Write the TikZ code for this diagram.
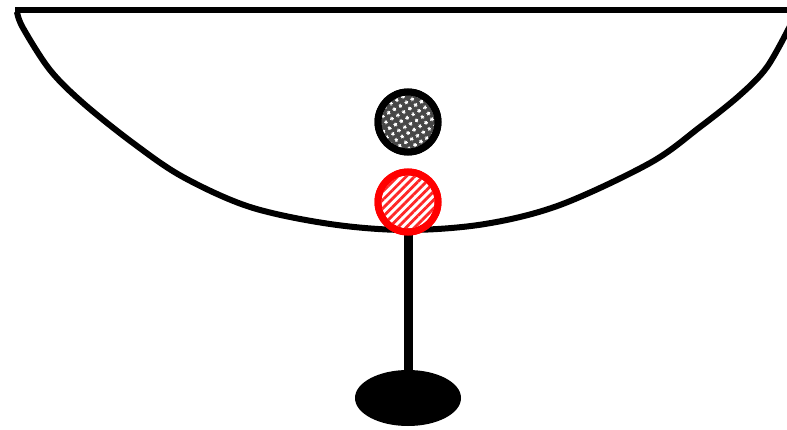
\documentclass[tikz,border=0pt]{standalone}
\usetikzlibrary{patterns.meta}
\begin{document}
\begin{tikzpicture}[x=1pt,y=-1pt,
  bowl/.style={line width=6pt},
  ball/.style={circle,line width=7pt,minimum size=60pt,inner sep=0pt}]
\useasboundingbox (0,0) rectangle (787,430);
% rim
\draw[bowl] (15,10) -- (800,10);
% bowl curve
\draw[bowl,line join=round] plot[smooth,tension=0.55] coordinates
  {(17,12) (23,28) (50,70) (83,103) (133,143) (183,177) (250,207) (330,224) (407,230)
   (485,224) (560,205) (650,163) (700,127) (740,95) (767,67) (790,26)};
% stem and base
\draw[line width=9pt] (408,230) -- (408,385);
\fill (408,398) ellipse [x radius=53, y radius=28];
% dark ball
\node[ball,draw=black] (dark) at (408,122) {};
\fill[black!72] (dark.center) circle (26.5);
\fill[pattern={Dots[radius=1.9pt,distance=6.5pt,angle=30]},pattern color=white] (dark.center) circle (26.5);
\draw[line width=7pt] (dark.center) circle (30);
% red ball
\node[ball,draw=red] (redball) at (408,202) {};
\fill[white] (redball.center) circle (26.5);
\fill[pattern={Lines[angle=45,distance=6pt,line width=2.8pt]},pattern color=red!85] (redball.center) circle (26.5);
\draw[red,line width=7pt] (redball.center) circle (30);
\end{tikzpicture}
\end{document}
